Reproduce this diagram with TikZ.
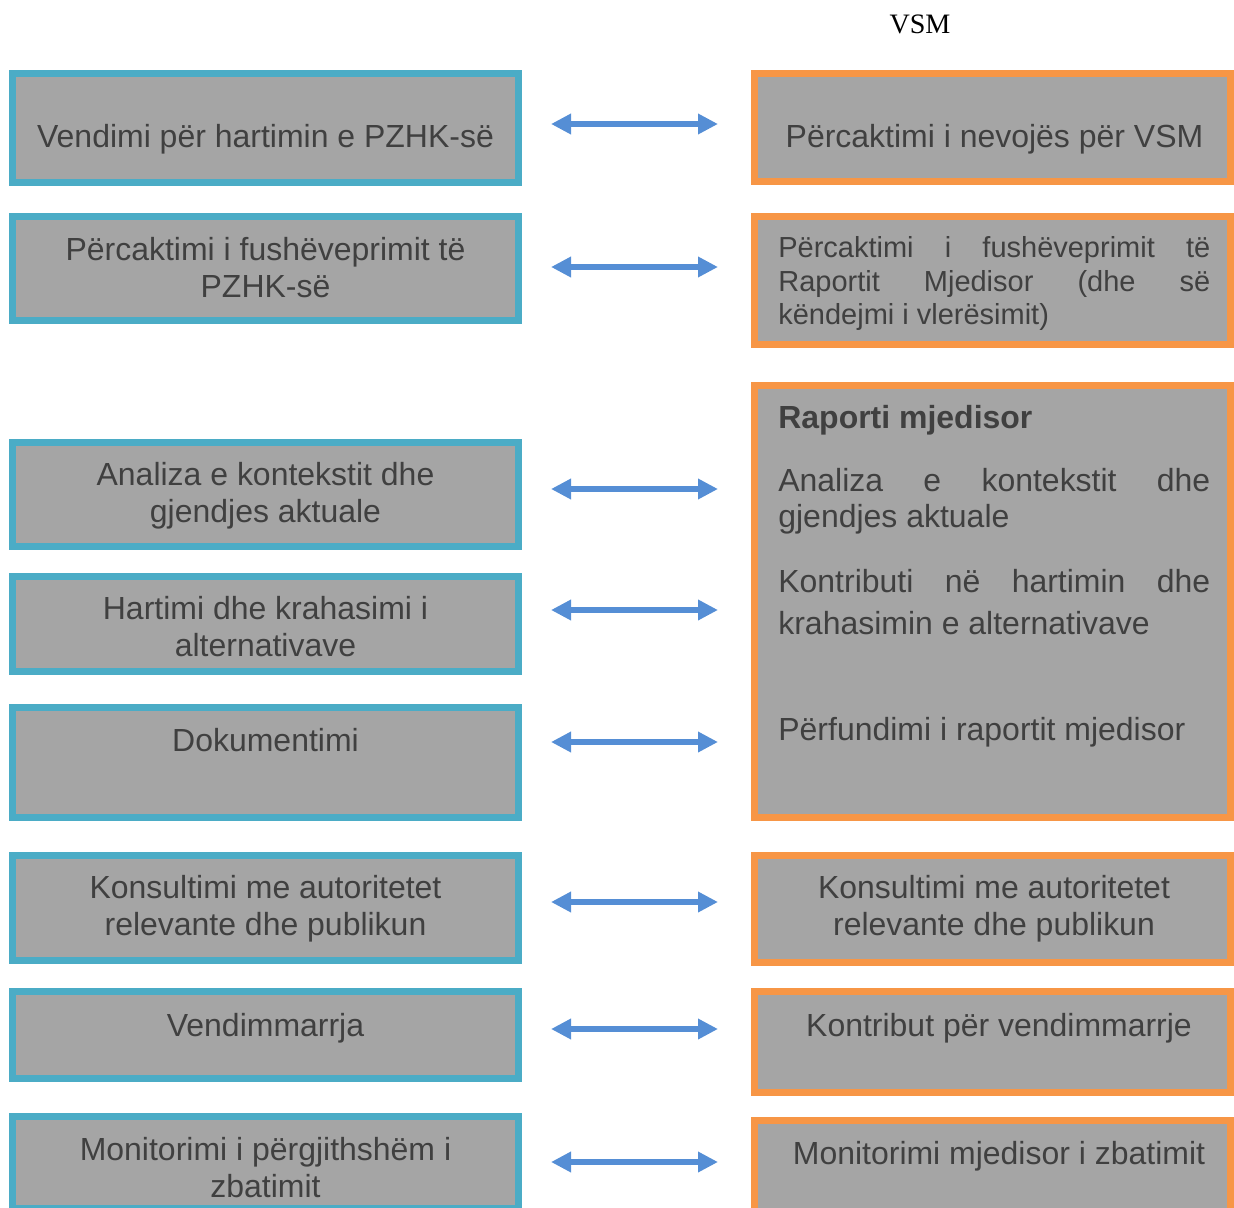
\documentclass[tikz,border=0pt]{standalone}
\usepackage{fontspec}
\setmainfont{Liberation Sans}
\newfontfamily\vsmfont{Liberation Serif}
\usetikzlibrary{arrows.meta}

\definecolor{boxteal}{HTML}{4BACC6}
\definecolor{boxorange}{HTML}{F79646}
\definecolor{boxgray}{HTML}{A5A5A5}
\definecolor{txtgray}{HTML}{404040}
\definecolor{arrowblue}{HTML}{558ED5}

\tolerance=10000
\hyphenpenalty=10000

\tikzset{
  pzhk/.style={draw=boxteal,fill=boxgray,line width=0.14cm,minimum width=10.12cm,inner sep=0pt},
  vsmbox/.style={draw=boxorange,fill=boxgray,line width=0.14cm,minimum width=9.52cm,inner sep=0pt},
  lbl/.style={text=txtgray,inner sep=0pt,align=center,anchor=base,
    font=\fontsize{18.2}{21}\selectfont},
  just/.style={lbl,align=justify,text width=8.64cm,anchor=base west},
  link/.style={arrowblue,line width=0.135cm,
    {Triangle[length=0.4cm,width=0.39cm]}-{Triangle[length=0.4cm,width=0.39cm]}}
}

\begin{document}
\begin{tikzpicture}[x=0.02cm,y=-0.02cm]
\useasboundingbox (0,0) rectangle (1234,1207);

% titulli
\node[font=\vsmfont\fontsize{16}{19}\selectfont,anchor=base,inner sep=0pt] (vsm) at (920,33) {VSM};

% PZHK
\node[pzhk,minimum height=2.18cm] (L1) at (265.35,128) {};
\node[pzhk,minimum height=2.08cm] (L2) at (265.35,268.5) {};
\node[pzhk,minimum height=2.08cm] (L3) at (265.35,494.5) {};
\node[pzhk,minimum height=1.90cm] (L4) at (265.35,624) {};
\node[pzhk,minimum height=2.20cm] (L5) at (265.35,762.5) {};
\node[pzhk,minimum height=2.10cm] (L6) at (265.35,908) {};
\node[pzhk,minimum height=1.74cm] (L7) at (265.35,1035) {};
\node[pzhk,minimum height=1.84cm] (L8) at (265.35,1162.5) {};

% (base = last line)
\node[lbl] (l1) at (265.5,147) {Vendimi për hartimin e PZHK-së};
\node[lbl] (l2) at (265.5,297) {Përcaktimi i fushëveprimit të\\PZHK-së};
\node[lbl] (l3) at (265.5,522) {Analiza e kontekstit dhe\\gjendjes aktuale};
\node[lbl] (l4) at (265.5,656) {Hartimi dhe krahasimi i\\alternativave};
\node[lbl] (l5) at (265.5,751) {Dokumentimi};
\node[lbl] (l6) at (265.5,935) {Konsultimi me autoritetet\\relevante dhe publikun};
\node[lbl] (l7) at (265.5,1036) {Vendimmarrja};
\node[lbl] (l8) at (265.5,1197) {Monitorimi i përgjithshëm i\\zbatimit};

% VSM
\node[vsmbox,minimum height=2.16cm] (R1) at (992.5,127.5) {};
\node[vsmbox,minimum height=2.56cm] (R2) at (992.5,280.5) {};
\node[vsmbox,minimum height=8.64cm] (R3) at (992.5,601.5) {};
\node[vsmbox,minimum height=2.14cm] (R4) at (992.5,909) {};
\node[vsmbox,minimum height=2.02cm] (R5) at (992.5,1042) {};
\node[vsmbox,minimum height=1.82cm] (R6) at (992.5,1166) {};

\node[lbl] (r1) at (994.5,147) {Përcaktimi i nevojës për VSM};
\node[just,font=\fontsize{16.5}{19.35}\selectfont] (r2) at (778,257)
  {Përcaktimi i fushëveprimit të\linebreak Raportit Mjedisor (dhe së\linebreak këndejmi i vlerësimit)};
\node[lbl,anchor=base west] (r3a) at (778,428) {\bfseries Raporti mjedisor};
\node[just] (r3b) at (778,491) {Analiza e kontekstit dhe\linebreak gjendjes aktuale};
\node[just,font=\fontsize{18.2}{23.9}\selectfont] (r3c) at (778,592)
  {Kontributi në hartimin dhe\linebreak krahasimin e alternativave};
\node[lbl,anchor=base west] (r3d) at (778,740) {Përfundimi i raportit mjedisor};
\node[lbl] (r4) at (994,935) {Konsultimi me autoritetet\\relevante dhe publikun};
\node[lbl] (r5) at (999,1036) {Kontribut për vendimmarrje};
\node[lbl] (r6) at (999,1164) {Monitorimi mjedisor i zbatimit};

% shigjetat
\foreach \y [count=\i] in {124,267,489,610,742,902,1029,1162}{
  \coordinate (a\i) at (551,\y);
  \coordinate (b\i) at (718,\y);
  \draw[link] (a\i) -- (b\i);
}
\end{tikzpicture}
\end{document}
